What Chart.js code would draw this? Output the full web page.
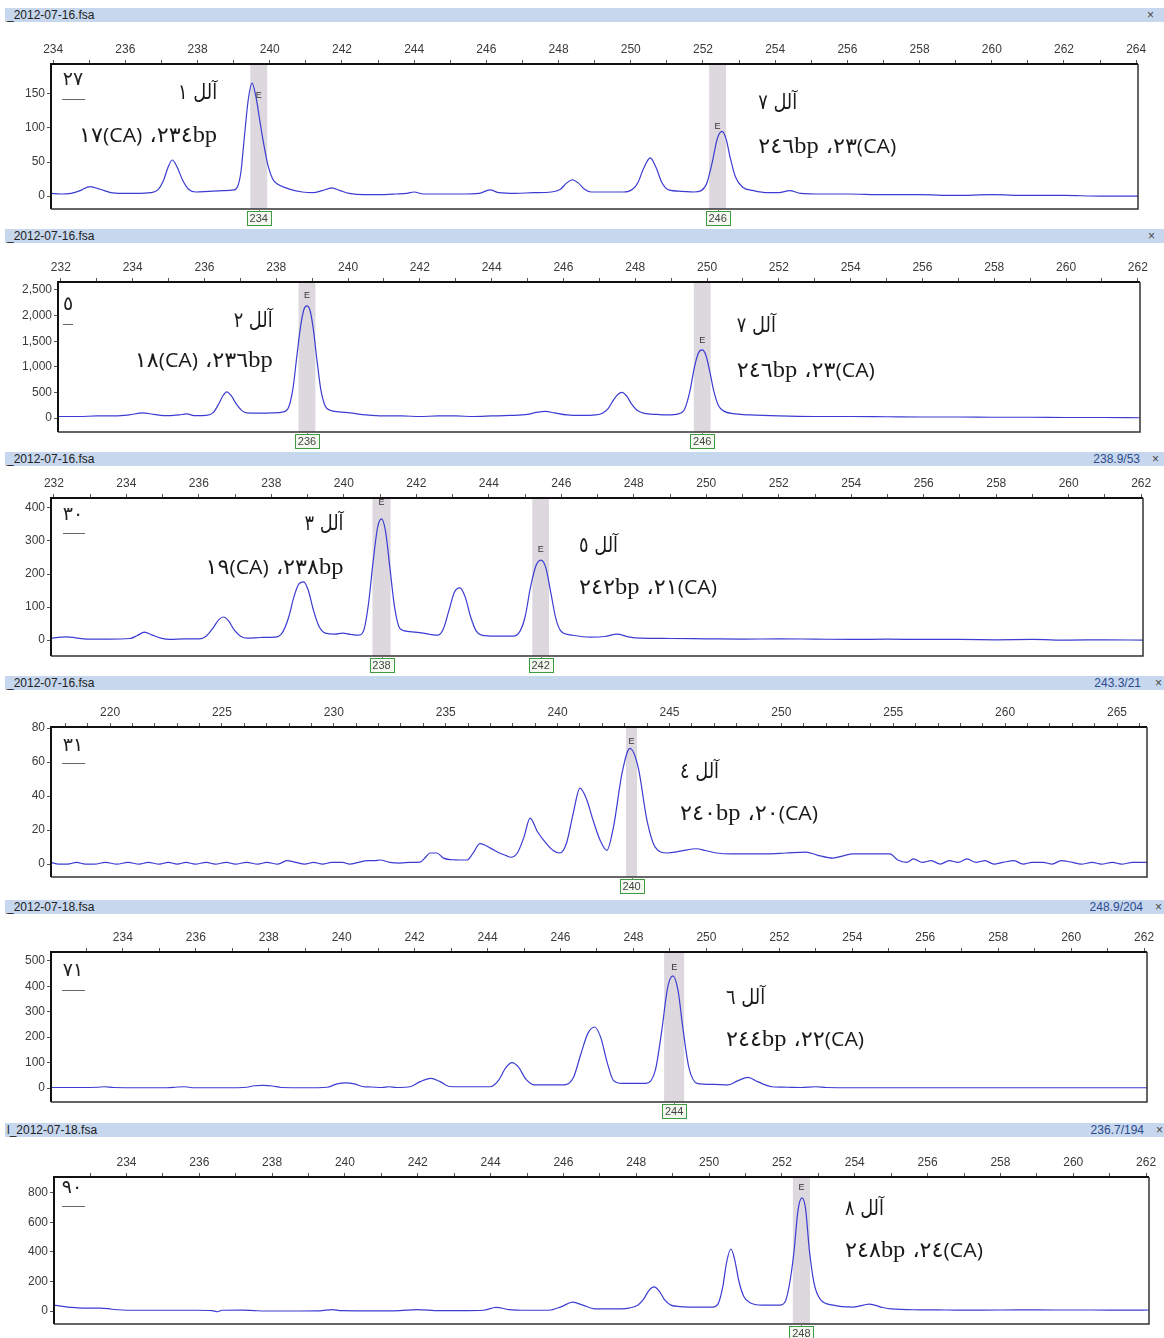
<!DOCTYPE html>
<html>
<head>
<meta charset="utf-8">
<script src="https://cdn.jsdelivr.net/npm/chart.js@4.4.1/dist/chart.umd.min.js"></script>
<style>
  body { margin: 0; background: #fff; }
  #page { position: relative; width: 1164px; height: 1338px; overflow: hidden; background: #fff; }
  .head { position: absolute; left: 5px; width: 1159px; height: 14px; background: #c6d7ee;
          font: 12px "Liberation Sans", Arial, sans-serif; line-height: 14px; color: #222; }
  .head .name { position: absolute; left: 2px; top: 0; }
  .head .read { position: absolute; top: 0; color: #2c4a8c; }
  .head .x { position: absolute; top: 0; color: #444; font-size: 12px; }
  canvas { position: absolute; left: 0; }
</style>
</head>
<body>
<div id="page"></div>
<script>
// ---- data ----
const fileNames = ['_2012-07-16.fsa', '_2012-07-16.fsa', '_2012-07-16.fsa', '_2012-07-16.fsa', '_2012-07-18.fsa', 'l_2012-07-18.fsa'];
const readouts = ['', '', '238.9/53', '243.3/21', '248.9/204', '236.7/194'];
const sampleIds = ['٢٧', '٥', '٣٠', '٣١', '٧١', '٩٠'];

const xRanges = [[233.94, 264.05], [231.92, 262.06], [231.92, 262.05], [217.36, 266.34], [232.03, 262.08], [232.01, 262.08]];
const yRanges = [[-19, 194], [-273, 2656], [-48, 430], [-7.6, 80.6], [-55, 535], [-88, 908]];
const xLabelSteps = [2, 2, 2, 5, 2, 2];
const yTickSteps = [50, 500, 100, 20, 100, 200];

const bins27 = [{from: 239.46, to: 239.93, label: '234', eY: 148}, {from: 252.17, to: 252.64, label: '246', eY: 102}];
const bins5  = [{from: 238.62, to: 239.09, label: '236', eY: 2383}, {from: 249.63, to: 250.10, label: '246', eY: 1523}];
const bins30 = [{from: 240.79, to: 241.29, label: '238', eY: 415}, {from: 245.20, to: 245.66, label: '242', eY: 273}];
const bins31 = [{from: 243.06, to: 243.55, label: '240', eY: 72}];
const bins71 = [{from: 248.84, to: 249.39, label: '244', eY: 473}];
const bins90 = [{from: 252.30, to: 252.77, label: '248', eY: 834}];

const alleles27 = [['آلل ١', '١٧(CA) ،٢٣٤bp'], ['آلل ٧', '٢٤٦bp ،٢٣(CA)']];
const alleles5  = [['آلل ٢', '١٨(CA) ،٢٣٦bp'], ['آلل ٧', '٢٤٦bp ،٢٣(CA)']];
const alleles30 = [['آلل ٣', '١٩(CA) ،٢٣٨bp'], ['آلل ٥', '٢٤٢bp ،٢١(CA)']];
const alleles31 = [['آلل ٤', '٢٤٠bp ،٢٠(CA)']];
const alleles71 = [['آلل ٦', '٢٤٤bp ،٢٢(CA)']];
const alleles90 = [['آلل ٨', '٢٤٨bp ،٢٤(CA)']];

const trace27 = [[233.94,4],[234.2,3],[234.5,4],[234.75,8],[235.02,14],[235.3,10],[235.6,5],[235.9,4],[236.3,4],[236.7,5],[236.9,9],[237.05,22],[237.18,42],[237.3,53],[237.43,43],[237.58,24],[237.75,10],[237.95,6],[238.3,7],[238.7,8],[239.0,9],[239.1,13],[239.2,35],[239.29,83],[239.4,140],[239.51,166],[239.62,145],[239.72,112],[239.82,80],[239.95,45],[240.08,25],[240.2,18],[240.5,11],[240.9,6],[241.2,5],[241.45,8],[241.72,12],[241.95,8],[242.2,4],[242.6,2],[243.0,2],[243.5,3],[243.8,4],[244.0,6],[244.25,3],[244.8,3],[245.3,3],[245.8,4],[246.1,9],[246.35,5],[246.8,4],[247.3,5],[247.8,6],[248.05,10],[248.22,19],[248.38,24],[248.55,19],[248.72,10],[248.9,6],[249.4,6],[249.8,6],[250.05,10],[250.2,20],[250.35,40],[250.54,56],[250.7,42],[250.86,20],[251.05,9],[251.4,7],[251.75,6],[251.95,8],[252.1,18],[252.25,48],[252.4,85],[252.53,95],[252.64,84],[252.76,55],[252.9,28],[253.1,13],[253.4,8],[253.8,5],[254.1,5],[254.4,8],[254.7,4],[255.3,3],[256,3],[257,2],[258,2],[259,1],[260,2],[261,1],[262,1],[263,0],[264.05,0]];

const trace5 = [[231.92,30],[232.5,30],[233.0,40],[233.5,40],[233.9,60],[234.28,100],[234.6,70],[235.0,45],[235.3,60],[235.5,80],[235.75,45],[236.05,50],[236.25,110],[236.4,280],[236.52,440],[236.62,510],[236.75,430],[236.9,260],[237.05,140],[237.18,100],[237.5,95],[237.9,100],[238.2,120],[238.35,220],[238.47,600],[238.58,1250],[238.68,1800],[238.77,2120],[238.85,2190],[238.94,2100],[239.03,1750],[239.13,1150],[239.24,560],[239.36,240],[239.5,150],[239.75,120],[240.05,100],[240.5,60],[241.0,40],[241.5,40],[242.0,30],[242.5,40],[243.0,40],[243.5,30],[244.0,40],[244.5,50],[245.0,70],[245.25,110],[245.5,130],[245.75,100],[246.1,60],[246.5,50],[246.9,60],[247.1,100],[247.25,190],[247.4,360],[247.52,465],[247.63,500],[247.76,430],[247.9,270],[248.05,150],[248.25,90],[248.6,70],[248.9,60],[249.2,80],[249.38,180],[249.52,520],[249.65,1000],[249.76,1270],[249.86,1330],[249.96,1240],[250.07,930],[250.19,520],[250.32,240],[250.48,130],[250.8,80],[251.2,60],[252,40],[253,30],[254,30],[255,25],[256,20],[257,20],[258,15],[259,15],[260,10],[261,10],[262.06,5]];

const trace30 = [[231.92,6],[232.2,9],[232.35,10],[232.6,7],[232.9,3],[233.5,3],[234.1,5],[234.3,14],[234.5,24],[234.7,16],[234.95,6],[235.2,2],[235.6,4],[236.0,4],[236.2,12],[236.4,38],[236.55,62],[236.68,70],[236.82,58],[236.98,30],[237.15,12],[237.35,6],[237.7,8],[238.1,9],[238.3,22],[238.48,70],[238.62,130],[238.76,170],[238.89,176],[239.02,150],[239.15,95],[239.3,45],[239.49,21],[239.75,18],[239.96,21],[240.2,17],[240.4,15],[240.55,30],[240.68,110],[240.8,230],[240.93,340],[241.04,367],[241.15,330],[241.27,220],[241.4,100],[241.55,35],[241.8,26],[242.14,22],[242.4,17],[242.6,15],[242.75,35],[242.9,90],[243.05,145],[243.2,158],[243.35,130],[243.5,70],[243.65,28],[243.8,15],[244.2,12],[244.67,12],[244.85,25],[245.0,70],[245.15,160],[245.3,225],[245.44,242],[245.57,220],[245.7,150],[245.85,65],[246.0,26],[246.3,15],[246.8,9],[247.2,11],[247.54,18],[247.85,10],[248.2,6],[249,5],[250,4],[251,3],[252,4],[253,3],[254,2],[255,3],[256,2],[257,2],[258,1],[259,2],[260,0],[261,1],[262.05,0]];

const trace31 = [[217.36,1],[217.7,0],[218.1,0],[218.5,1],[218.9,0],[219.3,0],[219.8,1],[220.3,0],[220.8,1],[221.3,0],[221.7,1],[222.2,0],[222.6,1],[223.0,0],[223.4,1],[223.8,0],[224.3,1],[224.7,0],[225.2,1],[225.6,0],[226.1,1],[226.6,0],[227.0,1],[227.5,0],[227.9,2],[228.3,1],[228.7,0],[229.1,1],[229.5,0],[229.9,1],[230.4,1],[230.7,0],[231.1,1],[231.5,2],[231.8,2],[232.06,2.4],[232.5,1],[232.96,0.6],[233.4,1],[233.85,1.2],[234.1,4],[234.3,6.5],[234.6,6.5],[234.9,3.5],[235.4,2.5],[235.95,2.4],[236.2,6],[236.53,12],[237.0,9.4],[237.4,6.5],[237.7,5],[237.9,4],[238.2,6.5],[238.5,16],[238.77,27],[239.1,19],[239.5,12],[239.8,8],[240.1,6.5],[240.4,12.4],[240.7,30],[241.0,44.7],[241.3,38],[241.58,26],[241.9,14],[242.2,8],[242.5,22],[242.88,53.5],[243.23,68],[243.6,57],[243.99,26],[244.36,10],[244.9,6.5],[245.5,7.6],[246.2,9],[246.6,8],[247.1,6.5],[247.8,6],[248.5,6],[249.36,6],[250.2,6.5],[251.1,7],[251.6,5.3],[252.3,3.5],[252.8,5],[253.2,6],[254.0,6],[254.85,6],[255.2,2.4],[255.6,1],[255.9,3],[256.3,1],[256.7,2],[257.1,0],[257.5,2],[257.9,1],[258.3,3],[258.7,1],[259.1,2],[259.5,0],[259.9,1],[260.4,2],[260.8,0],[261.2,1],[261.7,1],[262.1,0],[262.5,2],[263.0,1],[263.4,0],[263.9,1],[264.3,0],[264.8,1],[265.2,0],[265.7,1],[266.34,1]];

const trace71 = [[232.03,2],[232.8,2],[233.3,3],[233.5,5],[233.75,2],[234.5,1],[235.2,1],[235.5,4],[235.7,5],[235.95,1],[236.8,1],[237.4,3],[237.6,9],[237.85,10],[238.1,8],[238.35,2],[239.0,1],[239.6,3],[239.85,15],[240.1,20],[240.35,16],[240.6,5],[240.8,4],[241.1,2],[241.3,5],[241.5,2],[241.9,6],[242.15,25],[242.44,38],[242.7,25],[242.95,6],[243.3,5],[244.07,5],[244.3,30],[244.5,80],[244.67,100],[244.85,82],[245.05,35],[245.3,12],[245.7,12],[246.1,12],[246.35,40],[246.55,130],[246.75,215],[246.93,240],[247.1,200],[247.28,100],[247.45,30],[247.7,18],[248.0,18],[248.35,18],[248.6,70],[248.78,230],[248.93,390],[249.08,441],[249.22,385],[249.36,230],[249.52,80],[249.75,18],[250.2,14],[250.58,12],[250.85,28],[251.14,42],[251.4,25],[251.8,5],[252.2,3],[252.6,2],[253.0,5],[253.3,2],[254,1],[255,1],[256,1],[257,1],[258,1],[259,1],[260,1],[261,1],[262.08,1]];

const trace90 = [[232.01,40],[232.3,30],[232.5,24],[232.8,20],[233.3,20],[233.6,12],[233.9,7],[234.5,5],[235.2,5],[235.9,5],[236.35,3],[236.5,-5],[236.62,5],[237.2,6],[237.5,3],[237.8,0],[238.5,0],[239.3,1],[239.65,10],[239.9,2],[240.5,1],[241.5,3],[241.97,10],[242.6,2],[243.2,2],[243.8,5],[244.15,25],[244.5,10],[245.0,5],[245.6,5],[245.95,30],[246.25,60],[246.55,38],[246.85,15],[247.3,14],[247.8,20],[248.05,40],[248.2,80],[248.35,140],[248.49,163],[248.63,135],[248.78,75],[248.95,40],[249.2,30],[249.6,27],[250.1,27],[250.25,50],[250.38,170],[250.48,330],[250.6,420],[250.7,350],[250.82,200],[250.95,100],[251.1,60],[251.47,40],[251.94,40],[252.1,70],[252.22,200],[252.33,400],[252.44,680],[252.55,766],[252.65,690],[252.75,420],[252.88,190],[253.05,80],[253.4,40],[253.96,27],[254.4,47],[254.75,25],[255.0,14],[255.8,8],[256.5,7],[257.5,6],[258.5,8],[259.5,7],[260.5,7],[261.5,6],[262.08,7]];

// ---- page layout (pixels) ----
// head: header bar y, top/h: canvas, frame: [left, top, right, bottom], tag: [textCx, textCy, ulX0, ulX1, ulY] relative to frame
// notes: anchor of each allele note in data units [x, y line1, y line2, align]
const layout = [
  {head: 8,    top: 22,   h: 207, frame: [51, 64, 1138, 209],   tag: [22, 16, 11, 34, 35], read: 0,    close: 1147,
   notes: [[238.54, 153, 89, 'right'], [253.53, 138, 73, 'left']]},
  {head: 229,  top: 243,  h: 209, frame: [58, 282, 1140, 432],  tag: [10, 23, 5, 15, 42],  read: 0,    close: 1148,
   notes: [[237.9, 1914, 1133, 'right'], [250.83, 1816, 937, 'left']]},
  {head: 452,  top: 466,  h: 210, frame: [51, 498, 1143, 656],  tag: [22, 17, 12, 34, 35], read: 1140, close: 1152,
   notes: [[239.99, 355, 221, 'right'], [246.49, 288, 161, 'left']]},
  {head: 676,  top: 690,  h: 210, frame: [51, 727, 1147, 877],  tag: [22, 19, 11, 34, 36], read: 1141, close: 1155,
   notes: [[245.47, 54.7, 30, 'left']]},
  {head: 900,  top: 914,  h: 209, frame: [51, 952, 1147, 1102], tag: [22, 19, 11, 34, 38], read: 1143, close: 1155,
   notes: [[250.54, 359, 191, 'left']]},
  {head: 1123, top: 1137, h: 201, frame: [54, 1177, 1149, 1324], tag: [18, 11, 8, 31, 29], read: 1144, close: 1156,
   notes: [[253.73, 698, 414, 'left']]}
];

const allTraces = [trace27, trace5, trace30, trace31, trace71, trace90];
const allBins = [bins27, bins5, bins30, bins31, bins71, bins90];
const allAlleles = [alleles27, alleles5, alleles30, alleles31, alleles71, alleles90];

const AXIS_W = 40, AXIS_H = 20;
const tickFont = {family: '"Liberation Sans", Arial, sans-serif', size: 12};
const arabicFont = '"DejaVu Sans", sans-serif';

// ticks at every multiple of step inside the axis range
function stepTicks(scale, step) {
  const out = [];
  for (let k = Math.ceil(scale.min / step - 1e-9); k * step <= scale.max + 1e-9; k++) {
    out.push({value: (Math.round(k * step * 1000) / 1000) + 0});
  }
  scale.ticks = out;
}

function drawNoteLine(ctx, text, x, y, align, width) {
  const runs = text.split(/(\(CA\)|bp)/).filter(s => s.length);
  const fontOf = s => s === '(CA)' ? '20px "Open Sans", sans-serif'
                    : s === 'bp' ? '23px "Liberation Serif", serif'
                    : '21px ' + arabicFont;
  let total = 0;
  runs.forEach(r => { ctx.font = fontOf(r); total += ctx.measureText(r).width; });
  const k = width / total;
  const x0 = align === 'right' ? x - width : x;
  ctx.save();
  ctx.translate(x0, y + 7);
  ctx.scale(k, 1);
  ctx.textAlign = 'left';
  ctx.textBaseline = 'alphabetic';
  ctx.direction = 'ltr';
  let cx = 0;
  runs.forEach(r => {
    ctx.font = fontOf(r);
    ctx.fillText(r, cx, 0);
    cx += ctx.measureText(r).width;
  });
  ctx.restore();
}

const gelPlugin = {
  id: 'gel',
  beforeDatasetsDraw(chart, args, o) {
    const {ctx, chartArea: a, scales: {x}} = chart;
    ctx.save();
    ctx.fillStyle = '#dcd8de';
    o.bins.forEach(b => {
      const x0 = x.getPixelForValue(b.from), x1 = x.getPixelForValue(b.to);
      ctx.fillRect(x0, a.top, x1 - x0, a.bottom - a.top);
    });
    ctx.restore();
  },
  afterDraw(chart, args, o) {
    const {ctx, chartArea: a, scales: {x, y}} = chart;
    ctx.save();
    // frame
    ctx.strokeStyle = '#111';
    ctx.lineWidth = 2;
    ctx.beginPath();
    ctx.moveTo(a.left, a.bottom); ctx.lineTo(a.left, a.top); ctx.lineTo(a.right, a.top);
    ctx.stroke();
    ctx.strokeStyle = '#333';
    ctx.lineWidth = 1.5;
    ctx.beginPath();
    ctx.moveTo(a.right, a.top); ctx.lineTo(a.right, a.bottom); ctx.lineTo(a.left, a.bottom);
    ctx.stroke();

    // bin markers: E above the peak, size label box below the frame
    o.bins.forEach(b => {
      const cx = x.getPixelForValue((b.from + b.to) / 2);
      ctx.fillStyle = '#333';
      ctx.font = '9px "Liberation Sans", Arial, sans-serif';
      ctx.textAlign = 'center';
      ctx.textBaseline = 'middle';
      ctx.fillText('E', cx, y.getPixelForValue(b.eY));

      const bw = 24, bh = 14, by = a.bottom + 2;
      ctx.strokeStyle = '#777';
      ctx.lineWidth = 1;
      ctx.beginPath(); ctx.moveTo(Math.round(cx) + 0.5, a.bottom); ctx.lineTo(Math.round(cx) + 0.5, by); ctx.stroke();
      ctx.fillStyle = '#f3f9f1';
      ctx.fillRect(cx - bw / 2, by, bw, bh);
      ctx.strokeStyle = '#3f9b3f';
      ctx.strokeRect(Math.round(cx - bw / 2) + 0.5, by + 0.5, bw, bh);
      ctx.fillStyle = '#444';
      ctx.font = '11px "Liberation Sans", Arial, sans-serif';
      ctx.fillText(b.label, cx, by + bh / 2 + 1);
    });

    // sample number with underline
    const t = o.tag;
    ctx.fillStyle = '#222';
    ctx.font = '19px ' + arabicFont;
    ctx.textAlign = 'center';
    ctx.textBaseline = 'middle';
    ctx.fillText(o.sample, a.left + t[0], a.top + t[1]);
    ctx.strokeStyle = '#666';
    ctx.lineWidth = 1;
    ctx.beginPath();
    ctx.moveTo(a.left + t[2], a.top + t[4] + 0.5); ctx.lineTo(a.left + t[3], a.top + t[4] + 0.5);
    ctx.stroke();

    // allele notes
    ctx.fillStyle = '#1a1a1a';
    o.alleles.forEach((al, i) => {
      const n = o.notes[i];
      const px = x.getPixelForValue(n[0]);
      drawNoteLine(ctx, al[0], px, y.getPixelForValue(n[1]), n[3], 39);
      drawNoteLine(ctx, al[1], px, y.getPixelForValue(n[2]), n[3], 138);
    });
    ctx.restore();
  }
};

const page = document.getElementById('page');

layout.forEach((L, i) => {
  const head = document.createElement('div');
  head.className = 'head';
  head.style.top = L.head + 'px';
  head.innerHTML = '<span class="name">' + fileNames[i] + '</span>' +
    (readouts[i] ? '<span class="read" style="right:' + (1164 - L.read) + 'px">' + readouts[i] + '</span>' : '') +
    '<span class="x" style="left:' + (L.close - 5) + 'px">×</span>';
  page.appendChild(head);

  const cv = document.createElement('canvas');
  cv.width = 1164;
  cv.height = L.h;
  cv.style.top = L.top + 'px';
  cv.style.width = '1164px';
  cv.style.height = L.h + 'px';
  page.appendChild(cv);

  const [fl, ft, fr, fb] = L.frame;
  const xStep = xLabelSteps[i], yStep = yTickSteps[i];

  new Chart(cv, {
    type: 'line',
    data: {
      datasets: [{
        data: allTraces[i].map(p => ({x: p[0], y: p[1]})),
        borderColor: '#3c3cd2',
        borderWidth: 1.2,
        pointRadius: 0,
        fill: false,
        cubicInterpolationMode: 'monotone'
      }]
    },
    options: {
      responsive: false,
      animation: false,
      devicePixelRatio: 1,
      events: [],
      layout: {
        padding: {
          left: fl - AXIS_W,
          top: ft - L.top - AXIS_H,
          right: 1164 - fr,
          bottom: L.top + L.h - fb
        }
      },
      scales: {
        x: {
          type: 'linear',
          position: 'top',
          min: xRanges[i][0],
          max: xRanges[i][1],
          afterFit: s => { s.height = AXIS_H; },
          afterBuildTicks: s => stepTicks(s, 1),
          ticks: {
            autoSkip: false,
            includeBounds: false,
            maxRotation: 0,
            padding: 3,
            color: '#3a3a3a',
            font: tickFont,
            callback: v => (Math.round(v) % xStep === 0 ? String(Math.round(v)) : '')
          },
          grid: {drawOnChartArea: false, tickLength: 4, color: '#555'},
          border: {display: false}
        },
        y: {
          type: 'linear',
          min: yRanges[i][0],
          max: yRanges[i][1],
          afterFit: s => { s.width = AXIS_W; },
          afterBuildTicks: s => stepTicks(s, yStep),
          ticks: {
            autoSkip: false,
            includeBounds: false,
            padding: 2,
            color: '#3a3a3a',
            font: tickFont,
            callback: v => (Math.abs(v) < 1e-9 ? '0' : Number(v).toLocaleString('en-US'))
          },
          grid: {drawOnChartArea: false, tickLength: 4, color: '#555'},
          border: {display: false}
        }
      },
      plugins: {
        legend: {display: false},
        tooltip: {enabled: false},
        gel: {
          bins: allBins[i],
          alleles: allAlleles[i],
          notes: L.notes,
          sample: sampleIds[i],
          tag: L.tag
        }
      }
    },
    plugins: [gelPlugin]
  });
});
</script>
</body>
</html>
